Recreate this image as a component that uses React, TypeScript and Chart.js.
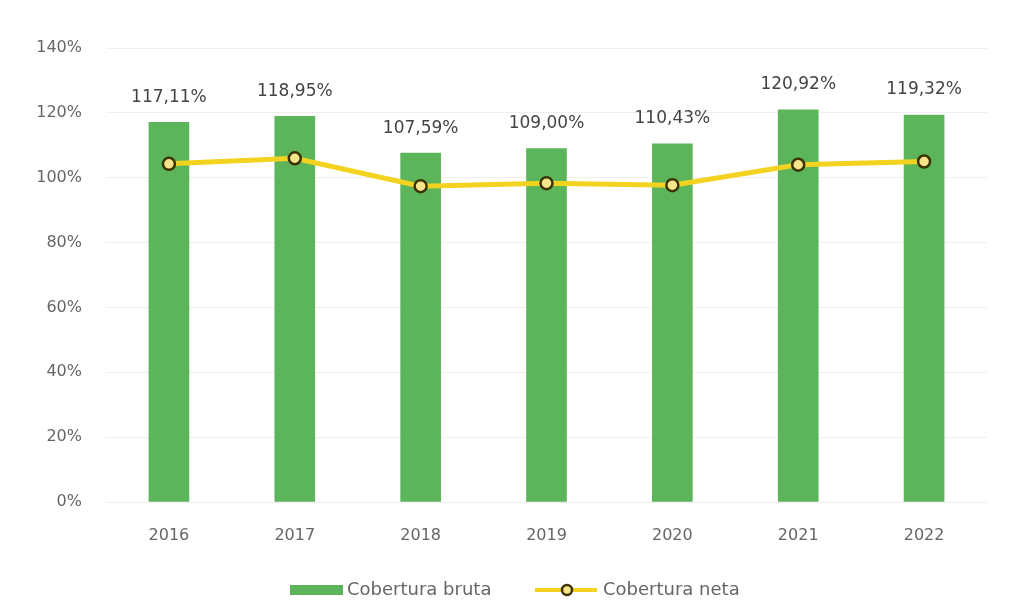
import React, { useEffect, useRef } from "react";
import { Chart, registerables } from "chart.js";

Chart.register(...registerables);

const years = ["2016", "2017", "2018", "2019", "2020", "2021", "2022"];
const coberturaBruta = [117.11, 118.95, 107.59, 109.0, 110.43, 120.92, 119.32];
const coberturaNeta = [104.3, 106.0, 97.4, 98.3, 97.7, 104.0, 105.0];
const yTicks = [0, 20, 40, 60, 80, 100, 120, 140];
const legendLabels = ["Cobertura bruta", "Cobertura neta"];

const GREEN = "#5cb55a";
const YELLOW = "#f3d31f";
const FONT = "'DejaVu Sans', sans-serif";

const fmt = (v: number) => v.toFixed(2).replace(".", ",") + "%";

const labelPlugin = {
  id: "barLabels",
  afterDatasetsDraw(chart: any) {
    const ctx = chart.ctx;
    const meta = chart.getDatasetMeta(0);
    ctx.save();
    ctx.fillStyle = "#444";
    ctx.font = `17px ${FONT}`;
    ctx.textAlign = "center";
    ctx.textBaseline = "middle";
    meta.data.forEach((el: any, i: number) => {
      ctx.fillText(fmt(coberturaBruta[i]), el.x, el.y - 25);
    });
    ctx.restore();
  },
};

const legendPlugin = {
  id: "customLegend",
  afterDraw(chart: any) {
    const ctx = chart.ctx;
    const y = 590;
    ctx.save();
    ctx.font = `18px ${FONT}`;
    ctx.textBaseline = "middle";
    ctx.textAlign = "left";
    ctx.fillStyle = GREEN;
    ctx.fillRect(290, y - 5, 53, 10);
    ctx.fillStyle = "#666";
    ctx.fillText(legendLabels[0], 347, y);
    ctx.strokeStyle = YELLOW;
    ctx.lineWidth = 4;
    ctx.beginPath();
    ctx.moveTo(535, y);
    ctx.lineTo(597, y);
    ctx.stroke();
    ctx.beginPath();
    ctx.arc(567, y, 5, 0, Math.PI * 2);
    ctx.fillStyle = "#f6e48a";
    ctx.fill();
    ctx.lineWidth = 2.5;
    ctx.strokeStyle = "#3b3300";
    ctx.stroke();
    ctx.fillStyle = "#666";
    ctx.fillText(legendLabels[1], 603, y);
    ctx.restore();
  },
};

export default function App() {
  const ref = useRef<HTMLCanvasElement>(null);
  useEffect(() => {
    document.body.style.margin = "0";
    const chart = new Chart(ref.current!, {
      type: "bar",
      data: {
        labels: years,
        datasets: [
          {
            type: "bar",
            label: legendLabels[0],
            data: coberturaBruta,
            backgroundColor: GREEN,
            barThickness: 40,
            order: 2,
          },
          {
            type: "line",
            label: legendLabels[1],
            data: coberturaNeta,
            borderColor: YELLOW,
            borderWidth: 5,
            pointRadius: 6,
            pointBackgroundColor: "#f6e48a",
            pointBorderColor: "#3b3300",
            pointBorderWidth: 2.5,
            tension: 0,
            order: 1,
          } as any,
        ],
      },
      options: {
        animation: false,
        responsive: true,
        maintainAspectRatio: false,
        layout: { padding: { left: 20, right: 22, top: 48, bottom: 64 } },
        plugins: { legend: { display: false }, tooltip: { enabled: false } },
        scales: {
          x: {
            grid: { display: false },
            border: { display: false },
            ticks: { color: "#666", font: { family: FONT, size: 16 }, padding: 16 },
            afterFit: (s: any) => {
              s.height = 50;
            },
          },
          y: {
            min: 0,
            max: 140,
            afterBuildTicks: (s: any) => {
              s.ticks = yTicks.map((v) => ({ value: v }));
            },
            grid: { color: "#efefef", drawTicks: false },
            border: { display: false },
            ticks: {
              color: "#666",
              font: { family: FONT, size: 16 },
              padding: 24,
              callback: (v: any) => v + "%",
            },
            afterFit: (s: any) => {
              s.width = 86;
            },
          },
        },
      },
      plugins: [labelPlugin, legendPlugin],
    });
    return () => chart.destroy();
  }, []);
  return (
    <div style={{ width: 1009, height: 616, position: "relative", background: "#fff" }}>
      <canvas ref={ref} />
    </div>
  );
}
